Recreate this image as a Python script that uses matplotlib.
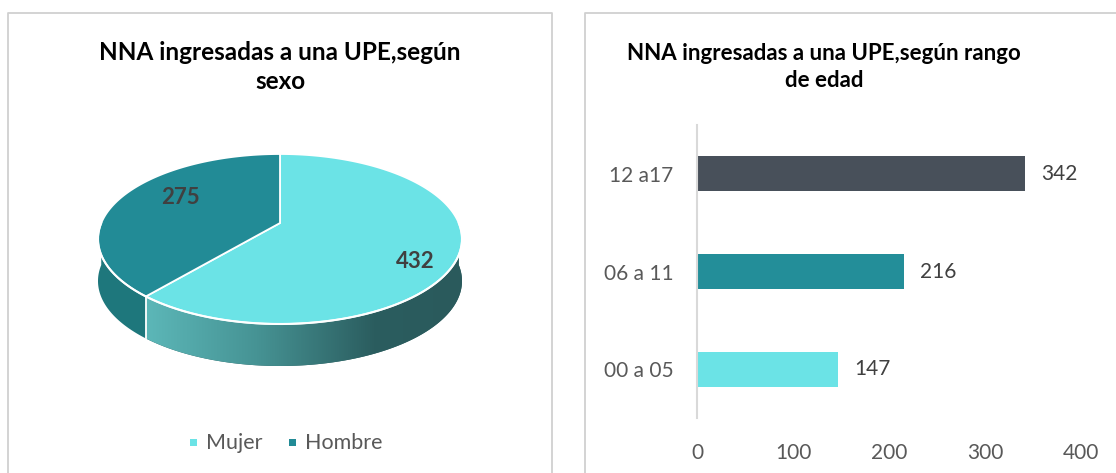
import numpy as np
import matplotlib
matplotlib.use("Agg")
import matplotlib.pyplot as plt
from matplotlib.patches import Polygon, Rectangle
from matplotlib.colors import LinearSegmentedColormap

plt.rcParams["font.family"] = ["Lato", "DejaVu Sans"]

# ── data ──────────────────────────────────────────────────────────────────────
sexo_labels = ["Mujer", "Hombre"]
sexo_values = [432, 275]
sexo_colors = ["#6be3e6", "#228b96"]

edad_labels = ["00 a 05", "06 a 11", "12 a17"]
edad_values = [147, 216, 342]
edad_colors = ["#6be3e6", "#238e99", "#48505a"]
edad_ticks = [0, 100, 200, 300, 400]

TXT_GRAY = "#595959"
TXT_DARK = "#404040"
BORDER = "#d0d0d0"

W, H = 1116, 473
fig = plt.figure(figsize=(W / 100, H / 100), dpi=100)
fig.patch.set_facecolor("white")

# background axes in pixel coordinates (y down)
bg = fig.add_axes([0, 0, 1, 1])
bg.axis("off")

# panel borders
bg.plot([8, 8, 552, 552], [H + 5, 13, 13, H + 5], color=BORDER, lw=1.3)
bg.plot([585, 585, W + 5], [H + 5, 13, 13], color=BORDER, lw=1.3)

# ── left panel: 3D-looking pie ────────────────────────────────────────────────
bg.text(280, 67, "NNA ingresadas a una UPE,según\nsexo", ha="center", va="center",
        fontsize=17.5, fontweight="bold", color="black", linespacing=1.27)

# ellipse centre, half-width, half-height, side depth, perspective factor
cx, cy, rx, ry, depth, k = 280, 239, 182, 85, 42, 0.188
apex_off = ry * k          # centre of the disc sits above ellipse centre
ax_u = rx * np.sqrt(1 - k * k)


def rim(t0, t1, n=160, dy=0):
    t = np.radians(np.linspace(t0, t1, n))
    u, v = np.cos(t), np.sin(t)
    d = 1 + k * v
    X = ax_u * u / d
    Y = (ry * v + apex_off) / d
    return np.column_stack([cx + X, cy - Y + dy])


apex = (cx, cy - apex_off)

total = sum(sexo_values)
start = 90.0
spans = []
for v in sexo_values:
    ext = 360.0 * v / total
    spans.append((start - ext, start))
    start -= ext

side_dark = ["#2b5d5f", "#1e777c"]
seams = []
for i, (a0, a1) in enumerate(spans):
    # visible front part is angles in [-180, 0] (mod 360)
    for off in (0, -360, 360):
        lo, hi = max(a0 + off, -180), min(a1 + off, 0)
        if lo >= hi:
            continue
        top = rim(lo, hi)
        bot = rim(hi, lo, dy=depth)
        poly = Polygon(np.vstack([top, bot]), closed=True, lw=0,
                       facecolor=side_dark[i], zorder=2)
        bg.add_patch(poly)
        if i == 0:
            cmap = LinearSegmentedColormap.from_list(
                "side", [(0, "#5cb7b8"), (0.35, "#469394"), (0.72, "#2b5d5f"), (1, "#2a5a5c")])
            x0, x1 = top[:, 0].min(), top[:, 0].max()
            grad = np.linspace(0, 1, 256).reshape(1, -1)
            im = bg.imshow(grad, cmap=cmap, extent=[x0, x1, cy + ry + depth + 2, cy - 20],
                           aspect="auto", zorder=3)
            im.set_clip_path(poly)
        for a in (lo, hi):
            if -180 < a < 0:
                seams.append(a)

for a in set(np.round(seams, 6)):
    p = rim(a, a, n=1)[0]
    bg.plot([p[0], p[0]], [p[1], p[1] + depth], color="white", lw=1.3, zorder=4)

for i, (a0, a1) in enumerate(spans):
    pts = np.vstack([[apex], rim(a0, a1)])
    bg.add_patch(Polygon(pts, closed=True, facecolor=sexo_colors[i],
                         edgecolor="white", lw=1.3, zorder=5))
bg.plot(*rim(-180, 0).T, color="white", lw=1.5, zorder=6)

# data labels on the pie
lab_pos = [(415, 261), (180, 197)]
for (x, y), v in zip(lab_pos, sexo_values):
    bg.text(x, y, str(v), ha="center", va="center", fontsize=16,
            fontweight="bold", color=TXT_DARK, zorder=7)

# legend
leg_x = [193, 292]
for x, lab, col in zip(leg_x, sexo_labels, sexo_colors):
    bg.add_patch(Rectangle((x - 3.5, 438.5), 7, 7, facecolor=col, lw=0, zorder=5))
    bg.text(x + 13, 443, lab, ha="left", va="center", fontsize=15.5, color=TXT_GRAY)

bg.set_xlim(0, W)
bg.set_ylim(H, 0)

# ── right panel: horizontal bars ─────────────────────────────────────────────
bg.text(824, 67, "NNA ingresadas a una UPE,según rango\nde edad", ha="center", va="center",
        fontsize=16, fontweight="bold", color="black", linespacing=1.35)

ax = fig.add_axes([697 / W, 1 - 418 / H, (1081 - 697) / W, (418 - 125) / H])
ypos = np.arange(len(edad_labels))
bars = ax.barh(ypos, edad_values, height=0.36, color=edad_colors)
ax.set_xlim(edad_ticks[0], edad_ticks[-1])
ax.set_ylim(-0.5, len(edad_labels) - 0.5)
ax.set_yticks(ypos)
ax.set_yticklabels(edad_labels)
ax.set_xticks(edad_ticks)
ax.tick_params(length=0, labelsize=15, labelcolor=TXT_GRAY)
ax.tick_params(axis="y", pad=17)
ax.tick_params(axis="x", pad=18)
for s in ("top", "right", "bottom"):
    ax.spines[s].set_visible(False)
ax.spines["left"].set_color("#d9d9d9")
ax.spines["left"].set_linewidth(1.5)
ax.set_facecolor("none")

for b, v in zip(bars, edad_values):
    ax.annotate(str(v), (v, b.get_y() + b.get_height() / 2), xytext=(11.5, 0),
                textcoords="offset points", ha="left", va="center",
                fontsize=15, color=TXT_DARK)

fig.savefig("out.png", dpi=100)
